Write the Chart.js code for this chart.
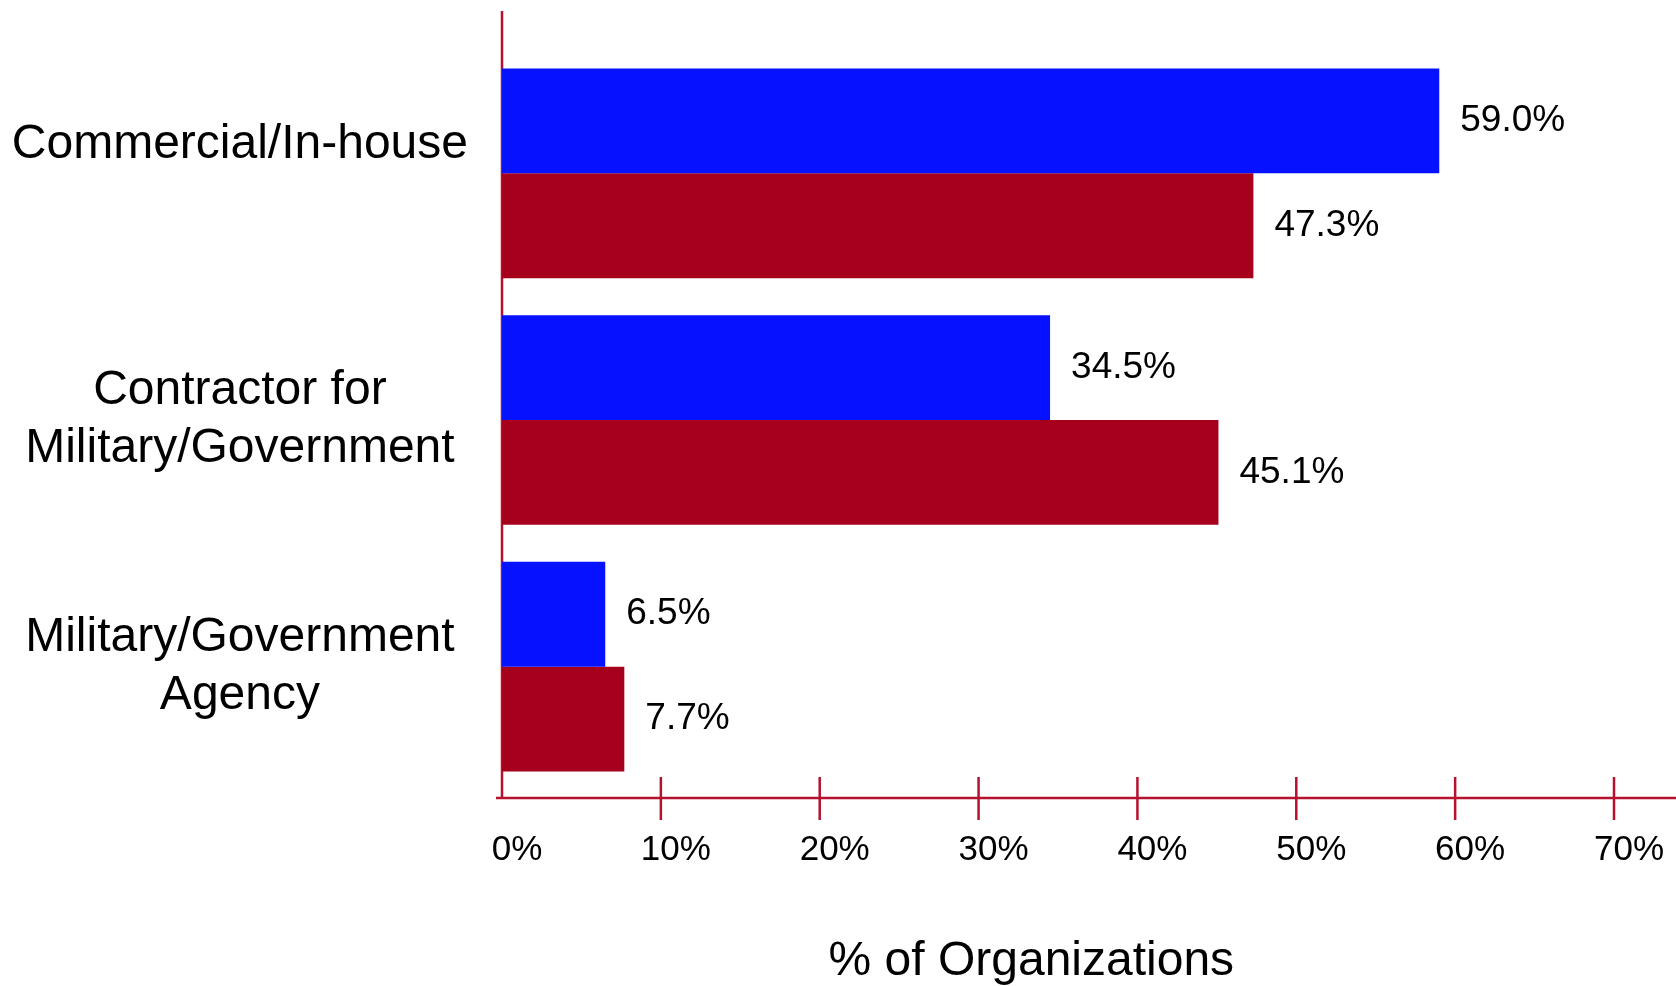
<!DOCTYPE html>
<html>
<head>
<meta charset="utf-8">
<script src="https://cdn.jsdelivr.net/npm/chart.js@4.4.1/dist/chart.umd.min.js"></script>
<style>
  html, body { margin: 0; padding: 0; background: #fff; }
  #wrap { width: 1676px; height: 986px; position: relative; }
</style>
</head>
<body>
<div id="wrap"><canvas id="orgChart"></canvas></div>
<script>
// categories (first label gets an empty 2nd line so it sits above its bars, as in the original)
const categories = [
  ["Commercial/In-house", ""],
  ["Contractor for", "Military/Government"],
  ["Military/Government", "Agency"],
];
const seriesBlue = [59.0, 34.5, 6.5];
const seriesRed = [47.3, 45.1, 7.7];
const xTicks = [0, 10, 20, 30, 40, 50, 60, 70];
// trailing nbsp's nudge the centred title a bit left, like the original
const axisTitle = "% of Organizations\u00a0\u00a0\u00a0\u00a0";

const FONT = "'Liberation Sans', Arial, Helvetica, sans-serif";
const AXIS_RED = "#b5122f";

// axis lines drawn across the value axis, with ticks crossing it
const axisFrame = {
  id: "axisFrame",
  beforeDatasetsDraw(chart) {
    const { ctx, chartArea, scales } = chart;
    const x0 = scales.x.getPixelForValue(0);
    const axisY = chartArea.bottom + 8;
    ctx.save();
    ctx.strokeStyle = AXIS_RED;
    ctx.lineWidth = 2.5;
    ctx.beginPath();
    ctx.moveTo(x0, chartArea.top - 39);
    ctx.lineTo(x0, axisY);
    ctx.moveTo(x0 - 6, axisY);
    ctx.lineTo(chart.width, axisY);
    scales.x.ticks.forEach((t) => {
      if (t.value === 0) return;
      const px = scales.x.getPixelForValue(t.value);
      ctx.moveTo(px, axisY - 21);
      ctx.lineTo(px, axisY + 22);
    });
    ctx.stroke();
    ctx.restore();
  },
};

const valueLabels = {
  id: "valueLabels",
  afterDatasetsDraw(chart) {
    const { ctx } = chart;
    ctx.save();
    ctx.font = `37px ${FONT}`;
    ctx.fillStyle = "#000";
    ctx.textAlign = "left";
    ctx.textBaseline = "middle";
    chart.data.datasets.forEach((ds, di) => {
      chart.getDatasetMeta(di).data.forEach((bar, i) => {
        ctx.fillText(ds.data[i].toFixed(1) + "%", bar.x + 21, bar.y);
      });
    });
    ctx.restore();
  },
};

new Chart(document.getElementById("orgChart"), {
  type: "bar",
  data: {
    labels: categories,
    datasets: [
      { label: "Series 1", data: seriesBlue, backgroundColor: "#0612ff", categoryPercentage: 0.85, barPercentage: 1.0 },
      { label: "Series 2", data: seriesRed, backgroundColor: "#a6001c", categoryPercentage: 0.85, barPercentage: 1.0 },
    ],
  },
  options: {
    indexAxis: "y",
    responsive: true,
    maintainAspectRatio: false,
    animation: false,
    layout: { padding: { top: 50, right: 62, bottom: 0, left: 0 } },
    plugins: { legend: { display: false }, tooltip: { enabled: false } },
    scales: {
      x: {
        type: "linear",
        min: xTicks[0],
        max: xTicks[xTicks.length - 1],
        afterBuildTicks: (scale) => { scale.ticks = xTicks.map((v) => ({ value: v })); },
        afterFit: (scale) => { scale.paddingLeft = 0; scale.paddingRight = 0; scale.height = 196; },
        grid: { display: false, drawTicks: false },
        border: { display: false },
        ticks: {
          color: "#000",
          font: { family: FONT, size: 35 },
          padding: 39,
          labelOffset: 15,
          maxRotation: 0,
          callback: (v) => v + "%",
        },
        title: {
          display: true,
          text: axisTitle,
          color: "#000",
          font: { family: FONT, size: 48, lineHeight: 1 },
          padding: { top: 67, bottom: 0 },
        },
      },
      y: {
        grid: { display: false, drawTicks: false },
        border: { display: false },
        afterFit: (scale) => { scale.width = 502; scale.paddingTop = 0; scale.paddingBottom = 0; },
        ticks: {
          color: "#000",
          font: { family: FONT, size: 48, lineHeight: 1.2 },
          padding: 34,
          crossAlign: "center",
        },
      },
    },
  },
  plugins: [axisFrame, valueLabels],
});
</script>
</body>
</html>
